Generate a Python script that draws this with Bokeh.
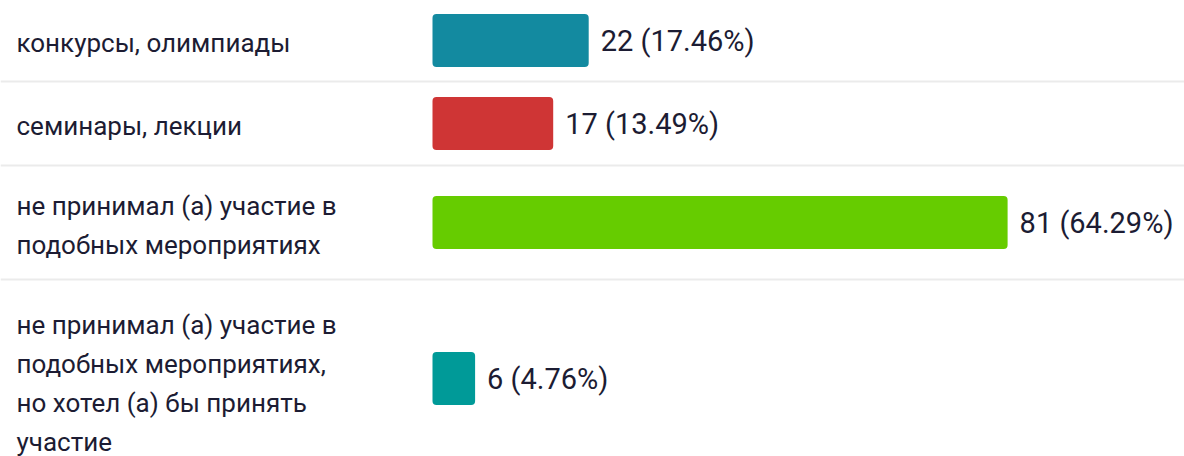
from bokeh.plotting import figure
from bokeh.models import Range1d, ColumnDataSource, Span
from bokeh.core.properties import value
from bokeh.embed import file_html
from bokeh.resources import INLINE

categories = [
    "конкурсы, олимпиады",
    "семинары, лекции",
    "не принимал (а) участие в\nподобных мероприятиях",
    "не принимал (а) участие в\nподобных мероприятиях,\nно хотел (а) бы принять\nучастие",
]
counts = [22, 17, 81, 6]
percents = ["17.46%", "13.49%", "64.29%", "4.76%"]
colors = ["#138AA0", "#CF3535", "#66CC00", "#009A98"]

# layout (pixels)
W, H = 1184, 456
ZERO_PX = 432          # where the bar axis starts
PX_PER_UNIT = 7.1
row_centers = [40, 123, 222, 378]
label_centers = [42, 125, 225, 383]
row_borders = [81, 165, 279]
BAR_H = 53
LABEL_PX = 16
GAP_PX = 12

x0 = -ZERO_PX / PX_PER_UNIT
x1 = (W - ZERO_PX) / PX_PER_UNIT

p = figure(width=W, height=H, output_backend="svg", toolbar_location=None,
           x_range=Range1d(x0, x1), y_range=Range1d(H, 0),
           x_axis_type=None, y_axis_type=None, min_border=0)
p.outline_line_color = None
p.background_fill_color = "white"
p.border_fill_color = "white"
p.grid.visible = False

for b in row_borders:
    p.add_layout(Span(location=b, dimension="width", line_color="#EBEBEB", line_width=2))

src = ColumnDataSource(dict(
    y=row_centers, ly=label_centers, v=counts, c=colors, cat=categories,
    lab=[f"{n} ({q})" for n, q in zip(counts, percents)],
    lx=[x0 + LABEL_PX / PX_PER_UNIT] * len(counts),
    vx=[n + GAP_PX / PX_PER_UNIT for n in counts],
))

p.hbar(y="y", left=0, right="v", height=BAR_H, fill_color="c", line_color=None,
       border_radius=4, source=src)

txt = dict(text_font=value("Roboto"), text_color="#1C1C33", text_baseline="middle")
p.text(x="lx", y="ly", text="cat", text_align="left", source=src,
       text_font_size="26px", text_line_height=1.29, **txt)
p.text(x="vx", y="y", text="lab", text_align="left", source=src,
       text_font_size="29px", **txt)

open("out.html", "w").write(file_html(p, INLINE))
